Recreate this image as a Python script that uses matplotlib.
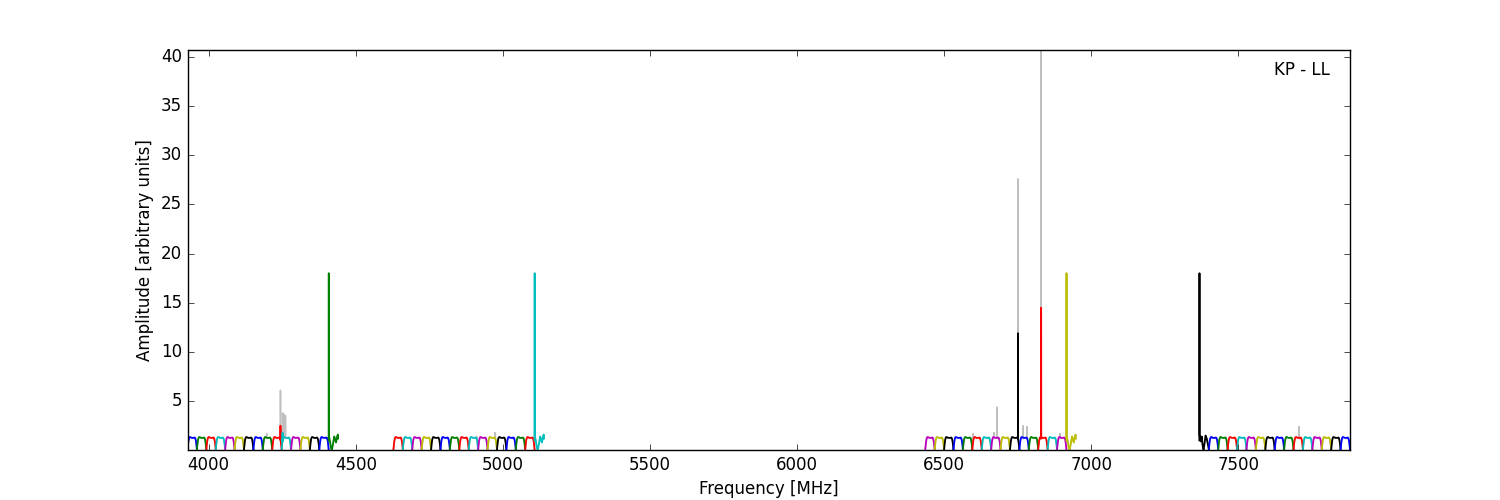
"""KP - LL autocorrelation spectrum: 64 channels of 32 MHz in four bands."""
import matplotlib

matplotlib.use("Agg")
import matplotlib.pyplot as plt
import numpy as np

plt.style.use("classic")

# band start frequencies [MHz], 16 channels of 32 MHz each
band_start = [3928, 4628, 6436, 7368]
chan_width = 32
n_chan = 16
# which channel in each band holds the phase-cal tone (drawn with the "V" shape)
tone_chan = [15, 15, 15, 0]

# bandpass shape of one channel
chan_offsets = [0, 1, 2, 3, 4, 5, 6, 7, 8, 10, 13, 16, 19, 22, 24, 25, 26, 27, 28, 29, 30, 31, 32]
chan_shape = [0.02, 0.35, 0.65, 0.9, 1.08, 1.2, 1.28, 1.33, 1.35, 1.33, 1.28, 1.26, 1.26, 1.28,
              1.3, 1.28, 1.24, 1.16, 1.04, 0.88, 0.65, 0.36, 0.02]

# tone channel, tone at the lower edge (bands 1-3)
tone_offsets = [0, 0.3, 0.6, 2, 5, 8, 11, 15, 19, 22, 25, 28, 31, 32]
tone_shape = [1.0, 18.0, 1.2, 1.3, 0.8, 0.2, 0.05, 0.7, 1.4, 1.1, 0.8, 1.3, 1.6, 1.2]
# tone channel of the last band
tone4_offsets = [0, 0.3, 0.6, 3, 6, 8, 11, 14, 17, 21, 25, 29, 32]
tone4_shape = [1.0, 18.0, 1.5, 1.4, 0.9, 1.4, 0.5, 0.05, 0.6, 1.5, 1.2, 0.6, 0.1]

# RFI spikes in the cleaned (coloured) data
clean_spike_f = [4244, 4251, 6751, 6830]
clean_spike_h = [2.5, 1.8, 11.9, 14.5]

# RFI spikes in the raw (grey) data
raw_spike_f = [4197, 4244, 4251, 4255, 4261, 4911, 4973, 6599, 6670, 6680,
               6751, 6769, 6782, 6830, 6894, 7410, 7707]
raw_spike_h = [1.7, 6.1, 3.8, 3.7, 3.5, 1.4, 1.8, 1.7, 1.8, 4.4,
               27.6, 2.5, 2.4, 45.0, 1.7, 1.4, 2.4]


def add_spikes(x, y, f0, spike_f, spike_h):
    x, y = list(x), list(y)
    for f, h in zip(spike_f, spike_h):
        if f0 <= f < f0 + chan_width:
            x += [f - 0.3, f, f + 0.3]
            y += [1.2, h, 1.2]
    order = np.argsort(x, kind="stable")
    return np.array(x)[order], np.array(y)[order]


fig = plt.figure(figsize=(15, 5))
ax = fig.add_subplot(111)

for b, f_band in enumerate(band_start):
    for k in range(n_chan):
        f0 = f_band + k * chan_width
        if k == tone_chan[b]:
            offs, shape = (tone4_offsets, tone4_shape) if b == 3 else (tone_offsets, tone_shape)
        else:
            offs, shape = chan_offsets, chan_shape
        x = f0 + np.array(offs, dtype=float)
        xr, yr = add_spikes(x, shape, f0, raw_spike_f, raw_spike_h)
        ax.plot(xr, yr, color="0.75", lw=1.1, zorder=1)
        xc, yc = add_spikes(x, shape, f0, clean_spike_f, clean_spike_h)
        ax.plot(xc, yc, lw=1.3, zorder=2)

ax.set_xlim(3928, 7880)
ax.set_ylim(0.03, 40.7)
ax.set_yticks(range(5, 41, 5))
ax.ticklabel_format(useOffset=False)
ax.set_xlabel("Frequency [MHz]")
ax.set_ylabel("Amplitude [arbitrary units]")
ax.text(0.983, 0.95, "KP - LL", transform=ax.transAxes, ha="right", va="center")

fig.savefig("out.png", dpi=100)
